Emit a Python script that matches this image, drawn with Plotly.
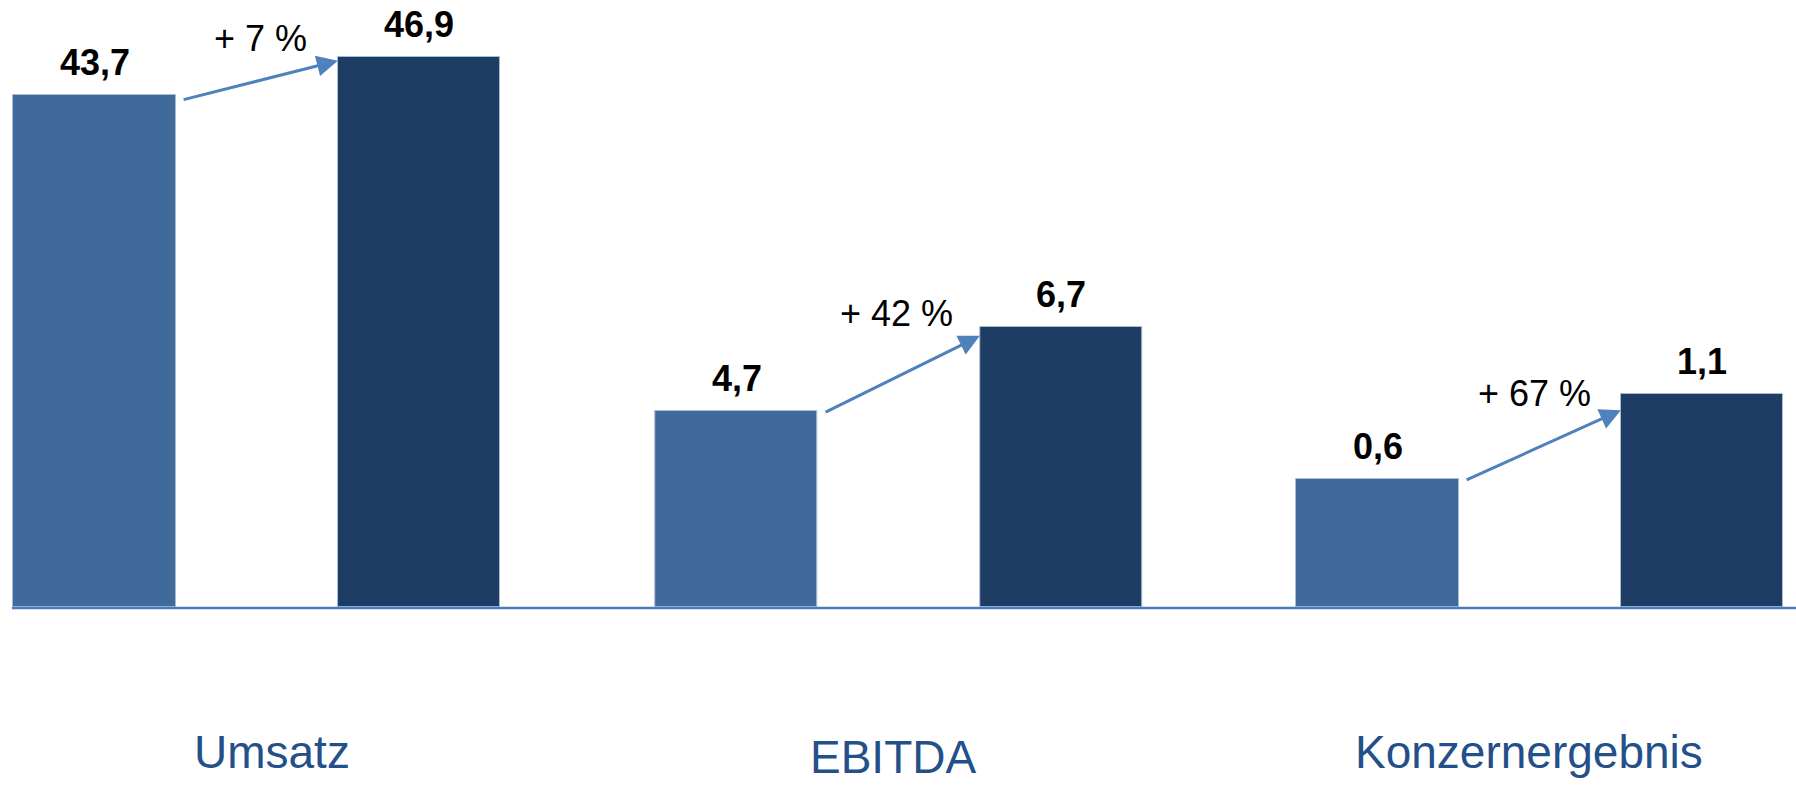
import plotly.graph_objects as go

# ---- data ----
groups = ["Umsatz", "EBITDA", "Konzernergebnis"]
periods = ["Vorjahr", "Berichtsjahr"]
prior_values = [43.7, 4.7, 0.63]
current_values = [46.9, 6.7, 1.05]
change_pct = [7, 42, 67]

# ---- style / layout ----
W, H = 1796, 785
base_px = 607                      # baseline pixel row
centers_px = [94.5, 736.5, 1377.5] # pixel centre of first bar per group
unit_px = 324.5                    # pixel distance between the two bars
dom_px = [0, 581.25, 1223, 1796]   # subplot boundaries in pixels
y_max = [51.8, 14.55, 2.995]       # per-metric scale
col_prior = "#3F6A9A"
col_curr = "#1E3D65"
arrow_col = "#4F81BD"
label_col = "#24508A"
font_fam = "Liberation Sans, Arial, sans-serif"
arrow_tip_frac = [0.994, 0.97, 0.925]
pct_shift = [(0, 42), (-6, 61), (-9, 52)]
cat_label_x = [0.548, 0.481, 0.467]
cat_label_y_px = [752, 785, 752]
cat_label_anchor = ["middle", "bottom", "middle"]

fig = go.Figure()
layout = dict(
    width=W, height=H, margin=dict(l=0, r=0, t=0, b=0),
    paper_bgcolor="white", plot_bgcolor="white",
    showlegend=False, bargap=0,
)
annotations = []

def fmt(v):
    return f"{v:.1f}".replace(".", ",")

for i, g in enumerate(groups):
    sfx = "" if i == 0 else str(i + 1)
    xa, ya = "x" + sfx, "y" + sfx
    fig.add_trace(go.Bar(
        x=periods, y=[prior_values[i], current_values[i]],
        width=0.5,
        marker=dict(color=[col_prior, col_curr],
                    line=dict(color="#A9BCD6", width=1)),
        xaxis=xa, yaxis=ya, hoverinfo="skip",
    ))
    c0 = centers_px[i]
    dl, dr = dom_px[i], dom_px[i + 1]
    layout["xaxis" + sfx] = dict(
        domain=[dl / W, dr / W],
        range=[(dl - c0) / unit_px, (dr - c0) / unit_px],
        type="category", categoryorder="array", categoryarray=periods,
        showticklabels=False, showgrid=False, zeroline=False, showline=False,
        anchor=ya,
    )
    layout["yaxis" + sfx] = dict(
        domain=[(H - base_px) / H, 1],
        range=[0, y_max[i]],
        showticklabels=False, showgrid=False, zeroline=False, showline=False,
        anchor=xa,
    )
    # value labels
    for j, v in enumerate([prior_values[i], current_values[i]]):
        annotations.append(dict(
            x=j, y=v, xref=xa, yref=ya, text="<b>" + fmt(v) + "</b>",
            showarrow=False, yanchor="bottom", yshift=10,
            font=dict(family=font_fam, size=36, color="black"),
        ))
    # growth arrow
    y0 = prior_values[i] * 0.99
    y1 = current_values[i] * arrow_tip_frac[i]
    x0, x1 = 0.27, 0.75
    annotations.append(dict(
        x=x1, y=y1, ax=x0, ay=y0, xref=xa, yref=ya, axref=xa, ayref=ya,
        text="", showarrow=True, arrowhead=2, arrowsize=1.4, arrowwidth=3,
        arrowcolor=arrow_col, standoff=0, startstandoff=0,
    ))
    annotations.append(dict(
        x=(x0 + x1) / 2, y=(y0 + y1) / 2, xref=xa, yref=ya,
        text=f"+ {change_pct[i]} %", showarrow=False,
        xshift=pct_shift[i][0], yshift=pct_shift[i][1],
        font=dict(family=font_fam, size=36, color="black"),
    ))
    # category label
    annotations.append(dict(
        x=cat_label_x[i], y=(H - cat_label_y_px[i]) / H, xref=xa, yref="paper",
        text=g, showarrow=False, yanchor=cat_label_anchor[i],
        font=dict(family=font_fam, size=46, color=label_col),
    ))

layout["annotations"] = annotations
layout["shapes"] = [dict(
    type="line", xref="paper", yref="paper",
    x0=12 / W, x1=1, y0=(H - 608) / H, y1=(H - 608) / H,
    line=dict(color="#4A7EBB", width=2.5),
)]
fig.update_layout(**layout)
fig.write_html("out.html")
